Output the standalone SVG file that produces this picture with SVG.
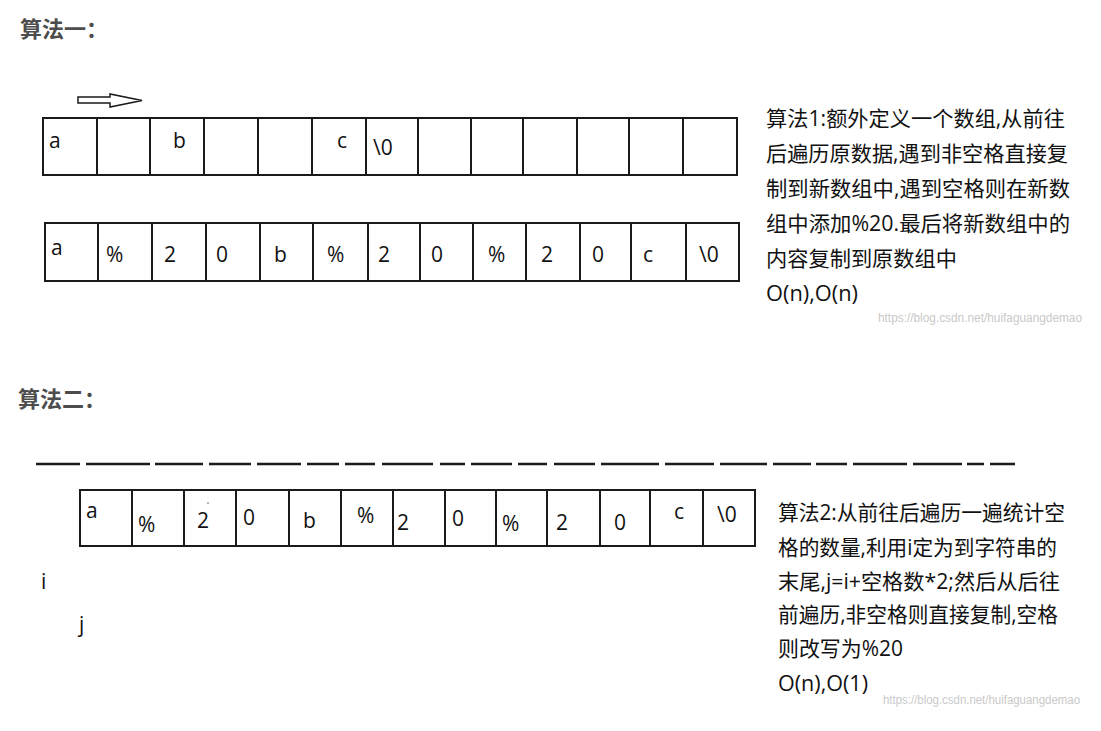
<svg xmlns="http://www.w3.org/2000/svg" width="1101" height="731" viewBox="0 0 1101 731">
<style>
.bg{fill:#ffffff}
.cell{fill:#ffffff;stroke:#1a1a1a;stroke-width:2}
.ch{font-family:"Open Sans","Noto Sans",sans-serif;font-size:21px;fill:#111}
.h{font-family:"Noto Sans CJK SC",sans-serif;font-size:22px;font-weight:bold;fill:#4d4d4d}
.t{font-family:"Open Sans","Noto Sans CJK SC",sans-serif;font-size:21px;fill:#111}
.wm{font-family:"Liberation Sans",sans-serif;font-size:12px;fill:#c9c9c9}
.dash{stroke:#1a1a1a;stroke-width:2.5;fill:none}
.arrow{fill:#ffffff;stroke:#1a1a1a;stroke-width:1.5}
</style>
<rect class="bg" x="0" y="0" width="1101" height="731"/>

<g id="heading1"><text class="h" x="20" y="37">算法一：</text></g>
<g id="heading2"><text class="h" x="18" y="407">算法二：</text></g>

<g id="arrow1"><polygon class="arrow" points="78,97 110,97 110,94 142,100.5 110,107 110,103 78,103"/></g>

<g id="array1">
<g id="a1c0"><rect class="cell" x="43" y="118" width="54" height="57"/><text class="ch" x="49" y="148">a</text></g>
<g id="a1c1"><rect class="cell" x="97" y="118" width="53" height="57"/></g>
<g id="a1c2"><rect class="cell" x="150" y="118" width="54" height="57"/><text class="ch" x="173" y="148">b</text></g>
<g id="a1c3"><rect class="cell" x="204" y="118" width="54" height="57"/></g>
<g id="a1c4"><rect class="cell" x="258" y="118" width="54" height="57"/></g>
<g id="a1c5"><rect class="cell" x="312" y="118" width="54" height="57"/><text class="ch" x="337" y="148">c</text></g>
<g id="a1c6"><rect class="cell" x="366" y="118" width="52" height="57"/><text class="ch" x="373" y="155">\0</text></g>
<g id="a1c7"><rect class="cell" x="418" y="118" width="53" height="57"/></g>
<g id="a1c8"><rect class="cell" x="471" y="118" width="52" height="57"/></g>
<g id="a1c9"><rect class="cell" x="523" y="118" width="54" height="57"/></g>
<g id="a1c10"><rect class="cell" x="577" y="118" width="52" height="57"/></g>
<g id="a1c11"><rect class="cell" x="629" y="118" width="54" height="57"/></g>
<g id="a1c12"><rect class="cell" x="683" y="118" width="54" height="57"/></g>
</g>

<g id="array2">
<g id="a2c0"><rect class="cell" x="45" y="223" width="53" height="58"/><text class="ch" x="51" y="255">a</text></g>
<g id="a2c1"><rect class="cell" x="98" y="223" width="54" height="58"/><text class="ch" x="106" y="262">%</text></g>
<g id="a2c2"><rect class="cell" x="152" y="223" width="54" height="58"/><text class="ch" x="164" y="262">2</text></g>
<g id="a2c3"><rect class="cell" x="206" y="223" width="54" height="58"/><text class="ch" x="216" y="262">0</text></g>
<g id="a2c4"><rect class="cell" x="260" y="223" width="53" height="58"/><text class="ch" x="274" y="262">b</text></g>
<g id="a2c5"><rect class="cell" x="313" y="223" width="55" height="58"/><text class="ch" x="327" y="262">%</text></g>
<g id="a2c6"><rect class="cell" x="368" y="223" width="52" height="58"/><text class="ch" x="378" y="262">2</text></g>
<g id="a2c7"><rect class="cell" x="420" y="223" width="53" height="58"/><text class="ch" x="431" y="262">0</text></g>
<g id="a2c8"><rect class="cell" x="473" y="223" width="53" height="58"/><text class="ch" x="488" y="262">%</text></g>
<g id="a2c9"><rect class="cell" x="526" y="223" width="54" height="58"/><text class="ch" x="541" y="262">2</text></g>
<g id="a2c10"><rect class="cell" x="580" y="223" width="51" height="58"/><text class="ch" x="592" y="262">0</text></g>
<g id="a2c11"><rect class="cell" x="631" y="223" width="55" height="58"/><text class="ch" x="643" y="262">c</text></g>
<g id="a2c12"><rect class="cell" x="686" y="223" width="53" height="58"/><text class="ch" x="699" y="262">\0</text></g>
</g>

<g id="dashline">
<path class="dash" d="M36 464H80 M86 464H150 M155 464H203 M209 464H251 M257 464H301 M307 464H339 M345 464H375 M382 464H433 M440 464H465 M471 464H512 M518 464H547 M554 464H595 M601 464H659 M665 464H714 M720 464H767 M773 464H811 M816 464H847 M853 464H907 M913 464H962 M967 464H984 M990 464H1015"/>
</g>

<g id="array3">
<g id="a3c0"><rect class="cell" x="80" y="490" width="52" height="56"/><text class="ch" x="86" y="518">a</text></g>
<g id="a3c1"><rect class="cell" x="132" y="490" width="52" height="56"/><text class="ch" x="138" y="532">%</text></g>
<g id="a3c2"><rect class="cell" x="184" y="490" width="52" height="56"/><text class="ch" x="197" y="528">2</text><circle cx="208" cy="503" r="0.8" fill="#555"/></g>
<g id="a3c3"><rect class="cell" x="236" y="490" width="53" height="56"/><text class="ch" x="243" y="525">0</text></g>
<g id="a3c4"><rect class="cell" x="289" y="490" width="52" height="56"/><text class="ch" x="303" y="528">b</text></g>
<g id="a3c5"><rect class="cell" x="341" y="490" width="52" height="56"/><text class="ch" x="357" y="523">%</text></g>
<g id="a3c6"><rect class="cell" x="393" y="490" width="52" height="56"/><text class="ch" x="397" y="530">2</text></g>
<g id="a3c7"><rect class="cell" x="445" y="490" width="51" height="56"/><text class="ch" x="452" y="526">0</text></g>
<g id="a3c8"><rect class="cell" x="496" y="490" width="51" height="56"/><text class="ch" x="502" y="531">%</text></g>
<g id="a3c9"><rect class="cell" x="547" y="490" width="53" height="56"/><text class="ch" x="556" y="530">2</text></g>
<g id="a3c10"><rect class="cell" x="600" y="490" width="50" height="56"/><text class="ch" x="614" y="530">0</text></g>
<g id="a3c11"><rect class="cell" x="650" y="490" width="53" height="56"/><text class="ch" x="674" y="519">c</text></g>
<g id="a3c12"><rect class="cell" x="703" y="490" width="52" height="56"/><text class="ch" x="717" y="522">\0</text></g>
</g>

<g id="label-i"><text class="ch" x="41" y="589">i</text></g>
<g id="label-j"><text class="ch" x="79" y="632">j</text></g>

<g id="note1">
<text class="t" x="766" y="126" textLength="299" lengthAdjust="spacingAndGlyphs">算法1:额外定义一个数组,从前往</text>
<text class="t" x="766" y="161" textLength="302" lengthAdjust="spacingAndGlyphs">后遍历原数据,遇到非空格直接复</text>
<text class="t" x="766" y="196" textLength="304" lengthAdjust="spacingAndGlyphs">制到新数组中,遇到空格则在新数</text>
<text class="t" x="766" y="231" textLength="304" lengthAdjust="spacingAndGlyphs">组中添加%20.最后将新数组中的</text>
<text class="t" x="766" y="266" textLength="191" lengthAdjust="spacingAndGlyphs">内容复制到原数组中</text>
<text class="t" x="766" y="301" textLength="92" lengthAdjust="spacingAndGlyphs">O(n),O(n)</text>
<text class="wm" x="878" y="322" textLength="204" lengthAdjust="spacingAndGlyphs">https://blog.csdn.net/huifaguangdemao</text>
</g>

<g id="note2">
<text class="t" x="778" y="520" textLength="287" lengthAdjust="spacingAndGlyphs">算法2:从前往后遍历一遍统计空</text>
<text class="t" x="778" y="555" textLength="279" lengthAdjust="spacingAndGlyphs">格的数量,利用i定为到字符串的</text>
<text class="t" x="778" y="589" textLength="282" lengthAdjust="spacingAndGlyphs">末尾,j=i+空格数*2;然后从后往</text>
<text class="t" x="778" y="622" textLength="280" lengthAdjust="spacingAndGlyphs">前遍历,非空格则直接复制,空格</text>
<text class="t" x="778" y="656" textLength="125" lengthAdjust="spacingAndGlyphs">则改写为%20</text>
<text class="t" x="778" y="691" textLength="90" lengthAdjust="spacingAndGlyphs">O(n),O(1)</text>
<text class="wm" x="883" y="704" textLength="197" lengthAdjust="spacingAndGlyphs">https://blog.csdn.net/huifaguangdemao</text>
</g>
</svg>
